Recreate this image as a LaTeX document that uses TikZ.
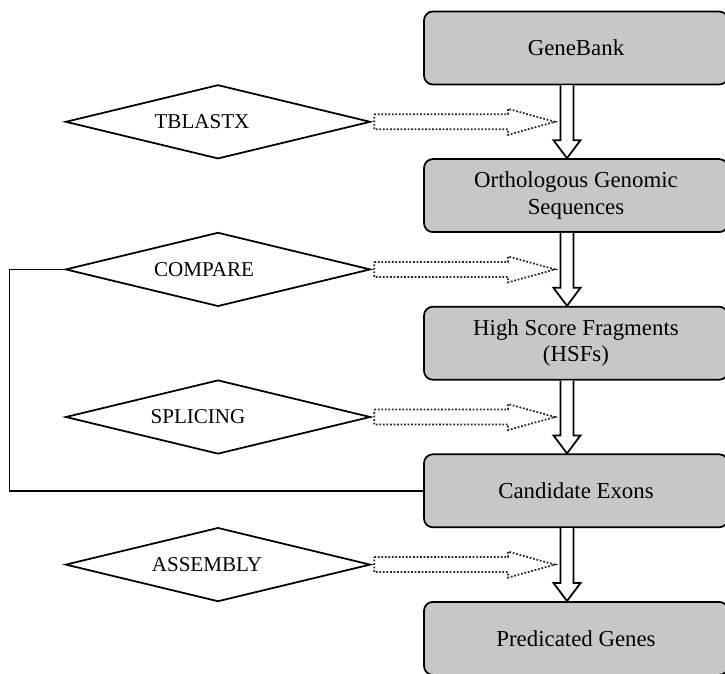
\documentclass[tikz,border=0pt]{standalone}
\usepackage{fontspec}
\setmainfont{Liberation Serif}
\usetikzlibrary{shapes.geometric,calc}

\begin{document}
\begin{tikzpicture}[%
  x=0.02cm, y=-0.02cm,
  font=\fontsize{12}{14}\selectfont,
  stage/.style = {draw, line width=1pt, rounded corners=5pt, fill=black!22,
    minimum width=6.08cm, minimum height=1.46cm, align=center,
    font=\fontsize{13}{15}\selectfont},
  tool/.style = {draw, line width=1pt, diamond, minimum width=6.1cm,
    minimum height=1.48cm, inner sep=0pt},
  hollow/.style = {line width=1pt, fill=white},
  dotarrow/.style = {densely dotted, line width=1pt, black!85},
  feedback/.style = {line width=0.9pt},
]
  \useasboundingbox (0,0) rectangle (725,674);
  \clip (0,0) rectangle (725,674);

  % stages
  \node[stage] (gene) at (576, 48.0) {GeneBank};
  \node[stage] (orth) at (576,195.6) {Orthologous Genomic\\Sequences};
  \node[stage] (hsf)  at (576,343.2) {High Score Fragments\\(HSFs)};
  \node[stage] (cand) at (576,490.8) {Candidate Exons};
  \node[stage] (pred) at (576,638.4) {Predicated Genes};

  % tools
  \node[tool, label={[xshift=-0.32cm]center:TBLASTX}]  (tbl) at (218,121.8) {};
  \node[tool, label={[xshift=-0.28cm]center:COMPARE}]  (cmp) at (218,269.4) {};
  \node[tool, label={[xshift=-0.4cm]center:SPLICING}]  (spl) at (218,417.0) {};
  \node[tool, label={[xshift=-0.22cm]center:ASSEMBLY}] (asm) at (218,564.6) {};

  % main flow
  \foreach \a/\b in {gene/orth, orth/hsf, hsf/cand, cand/pred}
    \draw[hollow] ($(\a.south)+(-15.5,0)$) -- ($(\b.north)+(-15.5,-18)$)
      -- ($(\b.north)+(-22.5,-18)$) -- ($(\b.north)+(-9,0)$)
      -- ($(\b.north)+(4.5,-18)$) -- ($(\b.north)+(-2.5,-18)$)
      -- ($(\a.south)+(-2.5,0)$);

  % tool arrows
  \foreach \d/\b in {tbl/gene, cmp/orth, spl/hsf, asm/cand}
    \draw[dotarrow] ($(\d.east)+(3,-7.5)$) -- ($(\d.east -| \b.south)+(-68,-7.5)$)
      -- ($(\d.east -| \b.south)+(-68,-13)$) -- ($(\d.east -| \b.south)+(-21,0)$)
      -- ($(\d.east -| \b.south)+(-68,13)$) -- ($(\d.east -| \b.south)+(-68,7.5)$)
      -- ($(\d.east)+(3,7.5)$) -- cycle;

  % feedback
  \draw[feedback] (cmp.west) -- ++(-55,0) |- (cand.west);

\end{tikzpicture}
\end{document}
